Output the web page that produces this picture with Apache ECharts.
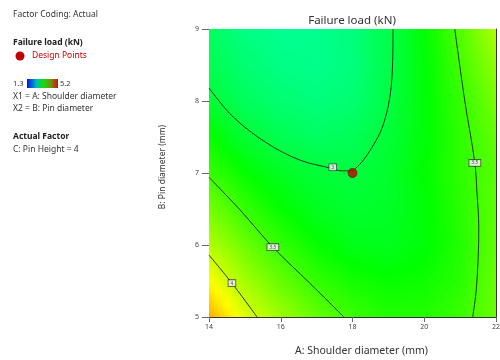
<!DOCTYPE html>
<html><head><meta charset="utf-8">
<script src="https://cdn.jsdelivr.net/npm/echarts@6/dist/echarts.min.js"></script>
<style>html,body{margin:0;padding:0;background:#fff}#c{width:500px;height:360px}</style>
</head><body><div id="c"></div>
<script>
// Grid of estimated response values (Failure load, kN), rows by Pin diameter
const xGrid = [14, 15, 16, 17, 18, 19, 20, 21, 22];
const yGrid = [5, 5.5, 6, 6.5, 7, 7.5, 8, 8.5, 9];
const load_y5   = [4.55, 4.10, 3.85, 3.63, 3.47, 3.38, 3.38, 3.47, 3.65];
const load_y5_5 = [4.22, 3.87, 3.63, 3.44, 3.32, 3.27, 3.30, 3.40, 3.64];
const load_y6   = [3.93, 3.66, 3.44, 3.27, 3.16, 3.14, 3.22, 3.38, 3.61];
const load_y6_5 = [3.70, 3.45, 3.26, 3.13, 3.07, 3.10, 3.22, 3.40, 3.60];
const load_y7   = [3.47, 3.26, 3.12, 3.04, 3.01, 3.08, 3.25, 3.42, 3.58];
const load_y7_5 = [3.28, 3.06, 2.94, 2.88, 2.92, 3.04, 3.22, 3.42, 3.62];
const load_y8   = [3.05, 2.90, 2.82, 2.78, 2.82, 2.99, 3.22, 3.45, 3.70];
const load_y8_5 = [2.95, 2.82, 2.74, 2.72, 2.78, 2.97, 3.22, 3.50, 3.80];
const load_y9   = [2.88, 2.75, 2.69, 2.71, 2.78, 2.97, 3.24, 3.56, 3.92];
const loadRows = [load_y5, load_y5_5, load_y6, load_y6_5, load_y7, load_y7_5, load_y8, load_y8_5, load_y9];

// Contour lines [A, B]
const contour3   = [[14,8.18],[14.67,7.78],[15.6,7.42],[16.53,7.18],[17.37,7.07],[17.7,7.03],[17.95,7.03],[18.2,7.12],[18.42,7.26],[18.62,7.42],[18.78,7.57],[18.9,7.74],[19.0,7.94],[19.08,8.2],[19.12,8.55],[19.13,9]];
const contour35R = [[20.85,9],[21.13,8.0],[21.41,7.14],[21.47,6.72],[21.52,6.25],[21.5,5.79],[21.44,5.33],[21.35,5]];
const contour35L = [[14,6.94],[14.86,6.49],[15.78,5.97],[16.81,5.47],[17.76,5]];
const contour4   = [[14,5.86],[14.64,5.47],[15.34,5]];
const contourLabels = [[17.45,7.08,'3'],[21.41,7.14,'3.5'],[15.78,5.97,'3.5'],[14.64,5.47,'4']];
const designPoints = [[18, 7]];

const stops = [[1.3,[0,0,255]],[2.275,[0,255,255]],[3.25,[0,255,0]],[4.225,[255,255,0]],[5.2,[255,0,0]]];
function colorOf(v){
  if (v <= stops[0][0]) return 'rgb(0,0,255)';
  for (let k=0;k<stops.length-1;k++){
    const a=stops[k], b=stops[k+1];
    if (v<=b[0]){
      const t=(v-a[0])/(b[0]-a[0]);
      const c=a[1].map((ch,ii)=>Math.round(ch+(b[1][ii]-ch)*t));
      return 'rgb('+c.join(',')+')';
    }
  }
  return 'rgb(255,0,0)';
}

const nx = xGrid.length-1, ny = yGrid.length-1;
const cells = [];
for (let j=0;j<ny;j++) for (let i=0;i<nx;i++) cells.push([(xGrid[i]+xGrid[i+1])/2,(yGrid[j]+yGrid[j+1])/2]);

function renderCell(params, api){
  const idx = params.dataIndex;
  const i = idx % nx, j = Math.floor(idx/nx);
  const p0 = api.coord([xGrid[i], yGrid[j]]);
  const p1 = api.coord([xGrid[i+1], yGrid[j+1]]);
  const xL = Math.round(p0[0]), xR = Math.round(p1[0]);
  const yT = Math.round(p1[1]), yB = Math.round(p0[1]);
  const z00 = loadRows[j][i], z10 = loadRows[j][i+1], z01 = loadRows[j+1][i], z11 = loadRows[j+1][i+1];
  const children = [];
  for (let r=yT; r<yB; r++){
    let tm = (p0[1]-(r+0.5))/(p0[1]-p1[1]);
    tm = Math.max(0, Math.min(1, tm));
    const L = z00*(1-tm)+z01*tm, R = z10*(1-tm)+z11*tm;
    const gs = [];
    for (let s=0;s<=4;s++){ const f=s/4; gs.push({offset:f,color:colorOf(L*(1-f)+R*f)}); }
    children.push({type:'rect',shape:{x:xL,y:r,width:xR-xL,height:1},
      style:{fill:new echarts.graphic.LinearGradient(0,0,1,0,gs)},silent:true});
  }
  return {type:'group',children};
}

const FONT = 'Noto Sans';
const chart = echarts.init(document.getElementById('c'), null, {renderer:'canvas'});
const lineStyle = {color:'#1d3a1d', width:1};
function contourSeries(d){
  return {type:'line', data:d, smooth:0.35, symbol:'none', lineStyle, z:3, silent:true, animation:false};
}
const txt = (t,y,opts)=>({type:'text', x:(opts&&opts.x)||13, y:y,
  style:{text:t, fill:(opts&&opts.fill)||'#333', verticalAlign:'middle',
    font:((opts&&opts.bold)?'bold ':'')+((opts&&opts.size)||8.5)+'px "'+FONT+'"'}});

chart.setOption({
  animation:false,
  textStyle:{fontFamily:FONT},
  grid:{left:209, right:4, top:29, bottom:43, containLabel:false, outerBoundsMode:'none'},
  xAxis:[{type:'value', min:14, max:22, interval:2,
    axisLine:{show:true, lineStyle:{color:'#333', width:1}},
    axisTick:{show:true, length:5, lineStyle:{color:'#666'}},
    axisLabel:{fontSize:7, color:'#444', margin:6},
    splitLine:{show:false},
    name:'A: Shoulder diameter (mm)', nameLocation:'middle', nameGap:29,
    nameTextStyle:{fontSize:10.5, color:'#333', padding:[0,0,0,18]}},
   {type:'value', position:'top', min:14, max:22, axisLine:{show:true, onZero:false, lineStyle:{color:'#333'}},
    axisTick:{show:false}, axisLabel:{show:false}, splitLine:{show:false}}],
  yAxis:[{type:'value', min:5, max:9, interval:1,
    axisLine:{show:false},
    axisTick:{show:true, length:7, lineStyle:{color:'#666'}},
    axisLabel:{fontSize:7, color:'#444', margin:10},
    splitLine:{show:false},
    name:'B: Pin diameter (mm)', nameLocation:'middle', nameGap:42,
    nameTextStyle:{fontSize:8.5, color:'#333', padding:[0,0,0,12]}},
   {type:'value', position:'right', min:5, max:9, axisLine:{show:true, onZero:false, lineStyle:{color:'#333'}},
    axisTick:{show:false}, axisLabel:{show:false}, splitLine:{show:false}}],
  series:[
    {type:'custom', data:cells, renderItem:renderCell, clip:true, z:1, silent:true, encode:{x:0,y:1}},
    contourSeries(contour3), contourSeries(contour35R), contourSeries(contour35L), contourSeries(contour4),
    {type:'scatter', data:contourLabels, symbolSize:0, z:5, silent:true,
      label:{show:true, position:'inside', formatter:p=>p.value[2], fontSize:5, color:'#222',
        backgroundColor:'#fff', borderColor:'#333', borderWidth:0.8, padding:[1,2,0,2]}},
    {type:'scatter', data:designPoints, symbolSize:9, z:6, silent:true,
      itemStyle:{color:'#c40000', borderColor:'#7a0000', borderWidth:0.8},
      label:{show:true, position:'left', distance:2, formatter:'6', fontSize:5, color:'#5a8a5a'}}
  ],
  graphic:[
    {type:'text', x:352, y:21, style:{text:'Failure load (kN)', fill:'#333', font:'11.5px "'+FONT+'"', align:'center', verticalAlign:'middle'}},
    txt('Factor Coding: Actual',15),
    txt('Failure load (kN)',43,{bold:true, fill:'#222'}),
    {type:'circle', shape:{cx:20, cy:56, r:4.5}, style:{fill:'#c00000'}},
    txt('Design Points',56,{x:32, fill:'#c00000'}),
    txt('1.3',84,{size:7.5}),
    {type:'rect', shape:{x:27, y:79, width:31, height:9}, style:{fill:new echarts.graphic.LinearGradient(0,0,1,0,[
      {offset:0,color:'#0a10e8'},{offset:0.3,color:'#00b8c0'},{offset:0.5,color:'#10e010'},{offset:0.75,color:'#6a9a10'},{offset:1,color:'#d01010'}])}},
    txt('5.2',84,{x:60, size:7.5}),
    txt('X1 = A: Shoulder diameter',97),
    txt('X2 = B: Pin diameter',109),
    txt('Actual Factor',137,{bold:true, fill:'#222'}),
    txt('C: Pin Height = 4',150)
  ]
});
</script></body></html>
